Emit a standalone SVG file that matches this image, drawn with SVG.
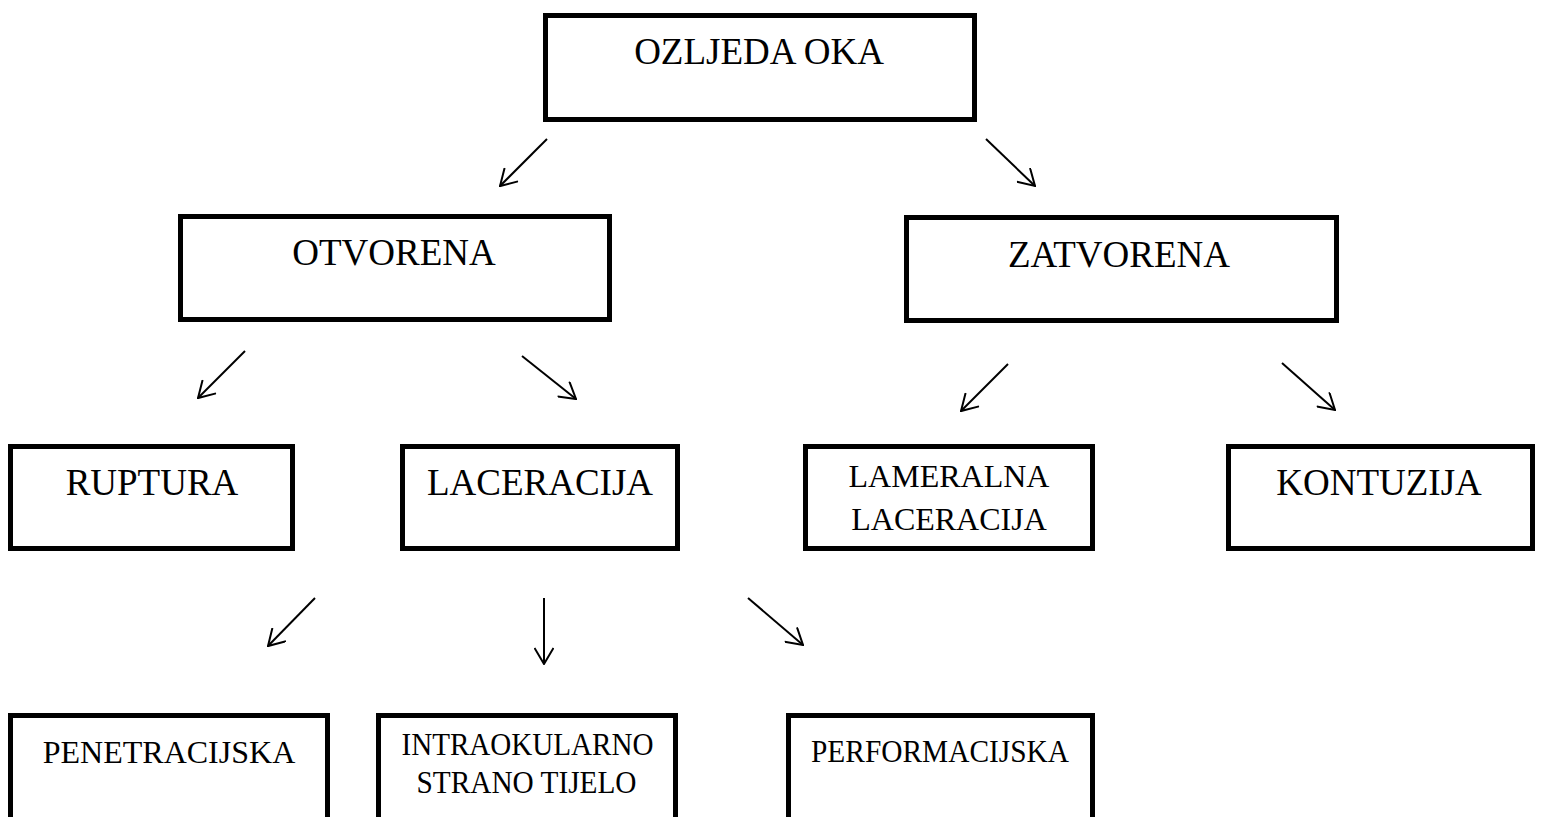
<svg xmlns="http://www.w3.org/2000/svg" width="1542" height="817" viewBox="0 0 1542 817">
<style>
.box{fill:#fff;stroke:#000;stroke-width:5}
.t{font-family:"Liberation Serif","Times New Roman",serif;fill:#000;text-anchor:middle}
.l{font-size:37px}
.m{font-size:32px}
.s{font-size:32px}
.c{stroke:#000;stroke-width:2;fill:none;marker-end:url(#ah)}
</style>
<defs>
<marker id="ah" markerUnits="userSpaceOnUse" markerWidth="20" markerHeight="20" viewBox="0 0 20 20" refX="19" refY="10" orient="auto">
<path d="M3,0.5 L19,10 L3,19.5" fill="none" stroke="#000" stroke-width="2"/>
</marker>
</defs>
<rect width="1542" height="817" fill="#fff"/>
<g id="connectors">
<line class="c" x1="547" y1="139" x2="500" y2="186"/>
<line class="c" x1="986" y1="139" x2="1035" y2="186"/>
<line class="c" x1="245" y1="351" x2="198" y2="398"/>
<line class="c" x1="522" y1="356" x2="576" y2="399"/>
<line class="c" x1="1008" y1="364" x2="961" y2="411"/>
<line class="c" x1="1282" y1="363" x2="1335" y2="410"/>
<line class="c" x1="315" y1="598" x2="268" y2="646"/>
<line class="c" x1="544" y1="598" x2="544" y2="664"/>
<line class="c" x1="748" y1="598" x2="803" y2="645"/>
</g>
<g id="n-ozljeda">
<rect class="box" x="545.5" y="15.5" width="429" height="104"/>
<text class="t l" x="759" y="64">OZLJEDA OKA</text>
</g>
<g id="n-otvorena">
<rect class="box" x="180.5" y="216.5" width="429" height="103"/>
<text class="t l" x="394" y="265">OTVORENA</text>
</g>
<g id="n-zatvorena">
<rect class="box" x="906.5" y="217.5" width="430" height="103"/>
<text class="t l" x="1119" y="267">ZATVORENA</text>
</g>
<g id="n-ruptura">
<rect class="box" x="10.5" y="446.5" width="282" height="102"/>
<text class="t l" x="152" y="495">RUPTURA</text>
</g>
<g id="n-laceracija">
<rect class="box" x="402.5" y="446.5" width="275" height="102"/>
<text class="t l" x="540" y="495">LACERACIJA</text>
</g>
<g id="n-lameralna">
<rect class="box" x="805.5" y="446.5" width="287" height="102"/>
<text class="t m" x="949" y="487">LAMERALNA</text>
<text class="t m" x="949" y="530">LACERACIJA</text>
</g>
<g id="n-kontuzija">
<rect class="box" x="1228.5" y="446.5" width="304" height="102"/>
<text class="t l" x="1379" y="495">KONTUZIJA</text>
</g>
<g id="n-penetracijska">
<rect class="box" x="10.5" y="715.5" width="317" height="120"/>
<text class="t s" x="169" y="763">PENETRACIJSKA</text>
</g>
<g id="n-intraokularno">
<rect class="box" x="378.5" y="715.5" width="297" height="120"/>
<text class="t s" x="527.5" y="755" textLength="252" lengthAdjust="spacingAndGlyphs">INTRAOKULARNO</text>
<text class="t s" x="526.5" y="793" textLength="220" lengthAdjust="spacingAndGlyphs">STRANO TIJELO</text>
</g>
<g id="n-performacijska">
<rect class="box" x="788.5" y="715.5" width="304" height="120"/>
<text class="t s" x="940" y="762" textLength="258" lengthAdjust="spacingAndGlyphs">PERFORMACIJSKA</text>
</g>
</svg>
